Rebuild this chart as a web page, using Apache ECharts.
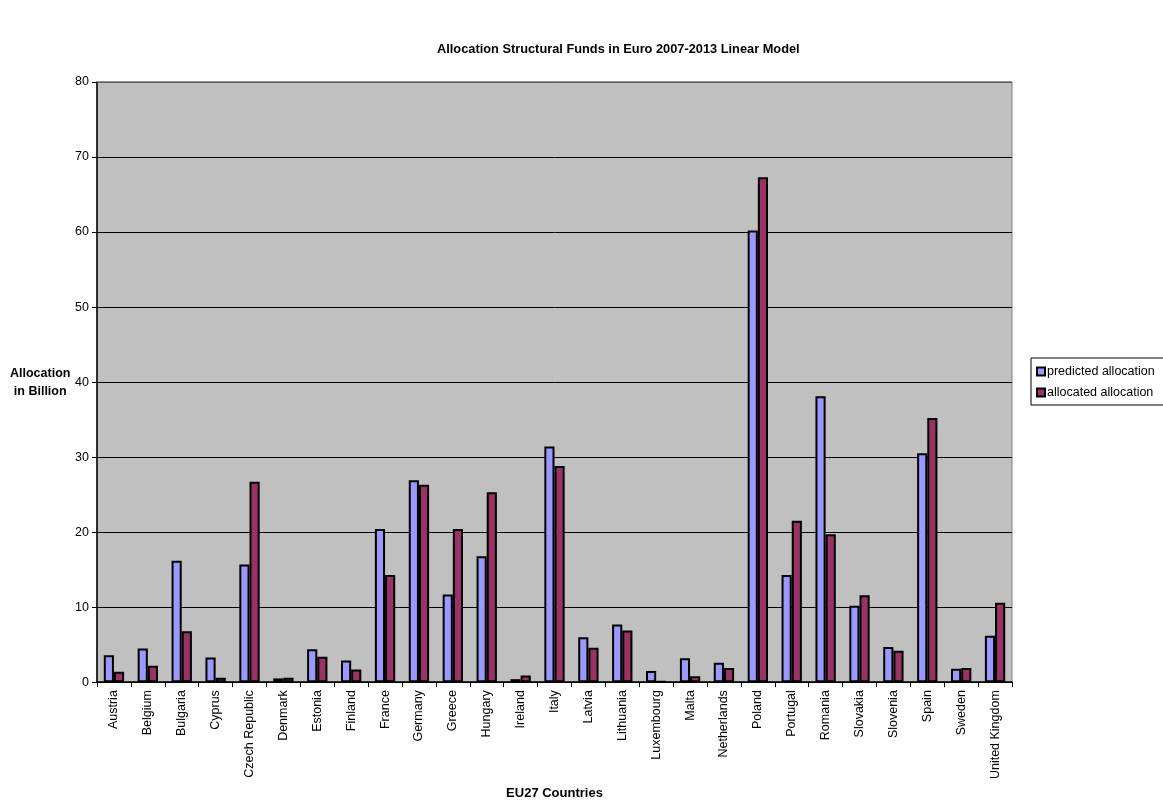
<!DOCTYPE html>
<html>
<head>
<meta charset="utf-8">
<script src="https://cdn.jsdelivr.net/npm/echarts@6/dist/echarts.min.js"></script>
<style>html,body{margin:0;padding:0;background:#fff}#c{width:1163px;height:805px}</style>
</head>
<body>
<div id="c"></div>
<script>
var categories = ["Austria","Belgium","Bulgaria","Cyprus","Czech Republic","Denmark","Estonia","Finland","France","Germany","Greece","Hungary","Ireland","Italy","Latvia","Lithuania","Luxembourg","Malta","Netherlands","Poland","Portugal","Romania","Slovakia","Slovenia","Spain","Sweden","United Kingdom"];
var predicted = [3.6,4.5,16.2,3.3,15.7,0.5,4.4,2.9,20.4,26.9,11.7,16.8,0.4,31.4,6.0,7.7,1.5,3.2,2.6,60.2,14.3,38.1,10.2,4.7,30.5,1.8,6.2];
var allocated = [1.4,2.2,6.8,0.6,26.7,0.6,3.4,1.7,14.3,26.3,20.4,25.3,0.9,28.8,4.6,6.9,0.1,0.8,1.9,67.3,21.5,19.7,11.6,4.2,35.2,1.9,10.6];
var yTicks = [0,10,20,30,40,50,60,70,80];

var font = "Liberation Sans, Arial, sans-serif";
var chart = echarts.init(document.getElementById('c'));
chart.setOption({
  animation: false,
  backgroundColor: '#fff',
  title: {
    text: 'Allocation Structural Funds in Euro 2007-2013 Linear Model',
    left: 432, top: 38,
    textStyle: {fontFamily: font, fontSize: 12.8, fontWeight: 'bold', color: '#000'}
  },
  grid: {left: 97, right: 151, top: 82, bottom: 119, show: true, backgroundColor: '#C0C0C0', borderColor: '#808080', borderWidth: 1},
  legend: {
    orient: 'vertical', left: 1031, top: 358,
    backgroundColor: '#fff', borderColor: '#000', borderWidth: 1,
    padding: [7, 20, 6, 5], itemGap: 8,
    itemWidth: 8, itemHeight: 8, icon: 'rect',
    textStyle: {fontFamily: font, fontSize: 12.5, color: '#000', padding: [0,0,0,-3]},
    data: ['predicted allocation', 'allocated allocation']
  },
  graphic: [{
    type: 'text', left: 10, top: 365,
    style: {text: 'Allocation\nin Billion', font: 'bold 12.5px ' + font, fill: '#000', textAlign: 'center', lineHeight: 18, x: 30}
  }],
  xAxis: {
    type: 'category', data: categories,
    name: 'EU27 Countries', nameLocation: 'middle', nameGap: 104,
    nameTextStyle: {fontFamily: font, fontSize: 13, fontWeight: 'bold', color: '#000'},
    axisLine: {lineStyle: {color: '#000', width: 1.5}},
    axisTick: {show: true, interval: 0, length: 5, lineStyle: {color: '#000'}},
    axisLabel: {interval: 0, rotate: 90, fontFamily: font, fontSize: 12.5, color: '#000', margin: 8}
  },
  yAxis: {
    type: 'value', min: 0, max: 80, interval: 10,
    axisLine: {show: true, lineStyle: {color: '#000', width: 1.5}},
    axisTick: {show: true, length: 5, inside: false, lineStyle: {color: '#000'}},
    axisLabel: {fontFamily: font, fontSize: 12.5, color: '#000', margin: 8,
      formatter: function (v) { return yTicks.indexOf(v) >= 0 ? String(v) : ''; }},
    splitLine: {show: true, lineStyle: {color: '#000', width: 1}}
  },
  series: [{
    name: 'predicted allocation', type: 'bar', data: predicted,
    barGap: '0%', barCategoryGap: '40%',
    itemStyle: {color: '#9999FF', borderColor: '#000', borderWidth: 2},
    markLine: {silent: true, symbol: 'none', label: {show: false},
      lineStyle: {color: '#808080', width: 1.5, type: 'solid'}, data: [{yAxis: 80}]}
  }, {
    name: 'allocated allocation', type: 'bar', data: allocated,
    barGap: '0%', barCategoryGap: '40%',
    itemStyle: {color: '#993366', borderColor: '#000', borderWidth: 2}
  }]
});
</script>
</body>
</html>
